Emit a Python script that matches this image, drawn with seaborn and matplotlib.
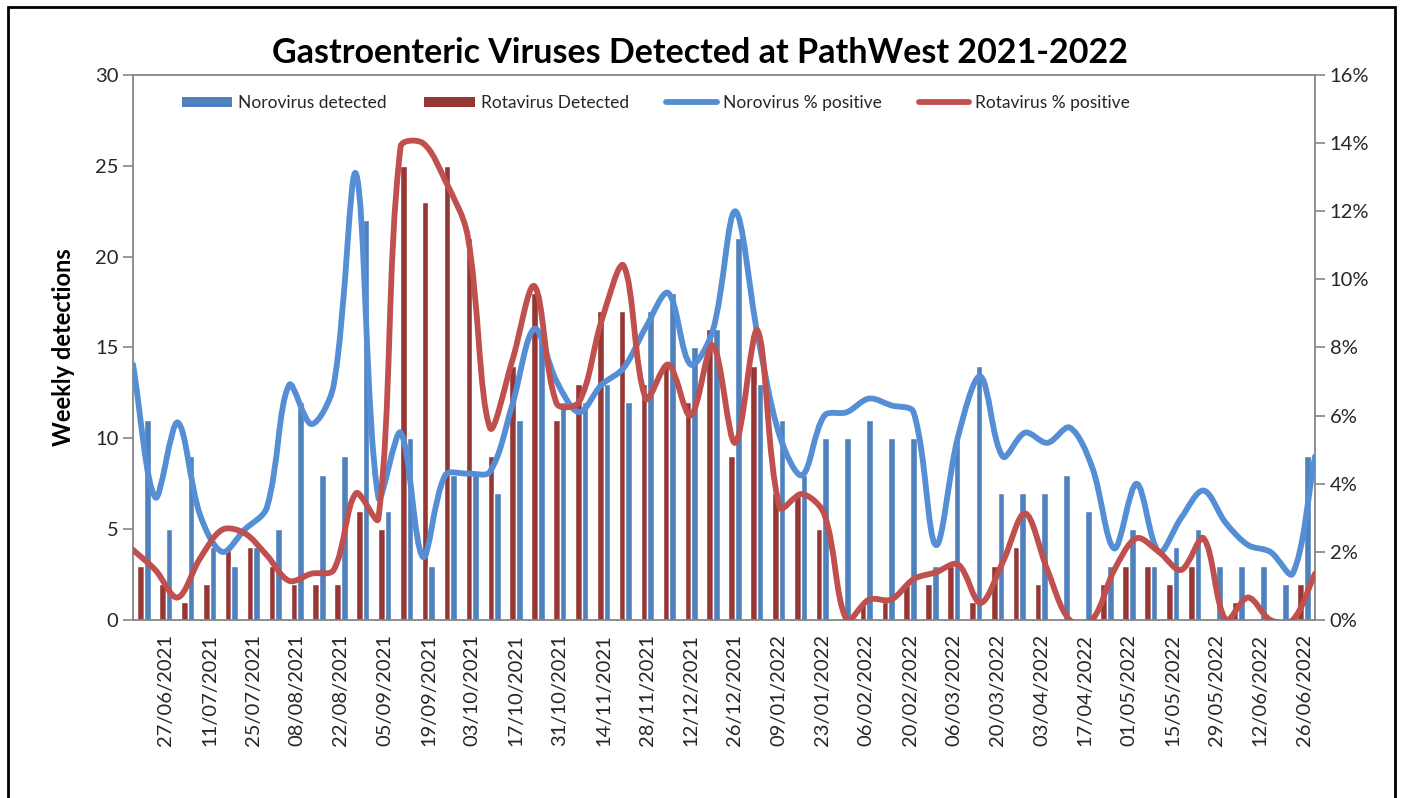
import numpy as np
import pandas as pd
import seaborn as sns
import matplotlib
matplotlib.use("Agg")
import matplotlib.pyplot as plt
from matplotlib.path import Path
from matplotlib.patches import PathPatch, Patch, Rectangle
from matplotlib.lines import Line2D
from matplotlib.ticker import FuncFormatter

# weekly data, week starting dates (Sunday) 20/06/2021 .. 26/06/2022
weeks = pd.date_range("2021-06-20", periods=54, freq="7D").strftime("%d/%m/%Y").tolist()

noro_detected = [11, 5, 9, 4, 3, 4, 5, 12, 8, 9, 22, 6, 10, 3, 8, 8, 7, 11, 16, 12,
                 12, 13, 12, 17, 18, 15, 16, 21, 13, 11, 8, 10, 10, 11, 10, 10, 3, 10, 14, 7,
                 7, 7, 8, 6, 3, 5, 3, 4, 5, 3, 3, 3, 2, 9]
rota_detected = [3, 2, 1, 2, 4, 4, 3, 2, 2, 2, 6, 5, 25, 23, 25, 21, 9, 14, 18, 11,
                 13, 17, 17, 13, 14, 12, 16, 9, 14, 7, 7, 5, 0, 1, 1, 2, 2, 3, 1, 3,
                 4, 2, 0, 0, 2, 3, 3, 2, 3, 0, 1, 0, 0, 2]

# % positive (secondary axis)
noro_pct = [7.5, 3.6, 5.8, 3.1, 2.0, 2.65, 3.3, 6.9, 5.75, 6.9, 13.1, 3.6, 5.5, 1.85, 4.25, 4.3, 4.35, 6.3, 8.55, 7.0,
            6.1, 6.9, 7.4, 8.6, 9.6, 7.5, 8.5, 12.0, 8.4, 5.4, 4.25, 6.0, 6.1, 6.5, 6.3, 6.1, 2.2, 5.4, 7.15, 4.8,
            5.5, 5.2, 5.65, 4.5, 2.1, 4.0, 2.0, 3.0, 3.8, 2.85, 2.2, 2.0, 1.36, 4.8]
rota_pct = [2.06, 1.47, 0.66, 1.8, 2.65, 2.55, 1.9, 1.15, 1.36, 1.47, 3.72, 2.97, 13.9, 14.0, 12.9, 11.3, 5.65, 7.6, 9.8, 6.35,
            6.4, 8.76, 10.4, 6.5, 7.5, 6.0, 8.06, 5.2, 8.5, 3.3, 3.7, 3.1, 0.0, 0.6, 0.6, 1.2, 1.4, 1.63, 0.5, 1.7,
            3.13, 1.47, 0.0, 0.0, 1.47, 2.4, 2.0, 1.47, 2.4, 0.0, 0.66, 0.0, 0.0, 1.36]

BLUE_BAR = "#4F81BD"
RED_BAR = "#953735"
BLUE_LINE = "#558ED5"
RED_LINE = "#C0504D"
GREY = "#868686"
TXT = "#262626"

sns.set_style("white")
plt.rcParams["font.family"] = ["Lato", "DejaVu Sans"]


def smooth_path(xs, ys, sx=22.3, sy=34.06):
    # excel-like smoothed line: cubic bezier through every point,
    # control arms weighted by the (screen) length of the neighbouring segments
    pts = np.column_stack([xs, ys]).astype(float)
    n = len(pts)
    scr = pts * [sx, sy]
    seg = np.hypot(*np.diff(scr, axis=0).T)
    fwd = np.zeros_like(pts)
    back = np.zeros_like(pts)
    for i in range(n):
        p_prev = pts[max(i - 1, 0)]
        p_next = pts[min(i + 1, n - 1)]
        d1 = seg[i - 1] if i > 0 else 0.0
        d2 = seg[i] if i < n - 1 else 0.0
        tot = d1 + d2 if d1 + d2 > 0 else 1.0
        t = p_next - p_prev
        fwd[i] = pts[i] + t * d2 / (3 * tot)
        back[i] = pts[i] - t * d1 / (3 * tot)
    verts = [pts[0]]
    codes = [Path.MOVETO]
    for i in range(n - 1):
        verts += [fwd[i], back[i + 1], pts[i + 1]]
        codes += [Path.CURVE4] * 3
    return Path(verts, codes)


df = pd.DataFrame({
    "week": weeks * 2,
    "count": rota_detected + noro_detected,
    "virus": ["Rotavirus Detected"] * len(weeks) + ["Norovirus detected"] * len(weeks),
})

fig = plt.figure(figsize=(14.02, 7.98), dpi=100)
rect = [133 / 1402, 1 - 620 / 798, (1315 - 133) / 1402, 545 / 798]
ax = fig.add_axes(rect)

sns.barplot(data=df, x="week", y="count", hue="virus", order=weeks,
            hue_order=["Rotavirus Detected", "Norovirus detected"],
            palette=[RED_BAR, BLUE_BAR], width=0.6, saturation=1,
            legend=False, ax=ax)

ax.set_xlim(-0.5, len(weeks) - 0.5)
ax.set_ylim(0, 30)
ax.set_yticks(range(0, 31, 5))
ax.set_xticks(np.arange(-0.5, len(weeks), 1))
ax.set_xticklabels([])
ax.set_xticks(np.arange(1, len(weeks), 2), minor=True)
ax.set_xticklabels(weeks[1::2], minor=True, rotation=90)
ax.tick_params(axis="x", which="major", direction="out", length=6, color=GREY, width=1.2)
ax.tick_params(axis="x", which="minor", length=0, pad=10, labelsize=14.5, labelcolor=TXT)
ax.tick_params(axis="y", direction="out", length=7, color=GREY, width=1.2, labelsize=14.5,
               labelcolor=TXT, left=True)
ax.set_xlabel("")
ax.set_ylabel("Weekly detections", fontsize=17, fontweight="bold", color="black", labelpad=14)
for s in ax.spines.values():
    s.set_color(GREY)
    s.set_linewidth(1.3)

# secondary axis for the % lines (lines span edge to edge)
ax2 = fig.add_axes(rect, facecolor="none")
ax2.set_xlim(0, len(weeks) - 1)
ax2.set_ylim(0, 16)
ax2.add_patch(PathPatch(smooth_path(range(len(weeks)), noro_pct), fill=False,
                        edgecolor=BLUE_LINE, lw=4.2, capstyle="round", joinstyle="round"))
ax2.add_patch(PathPatch(smooth_path(range(len(weeks)), rota_pct), fill=False,
                        edgecolor=RED_LINE, lw=4.2, capstyle="round", joinstyle="round"))
ax2.xaxis.set_visible(False)
ax2.yaxis.tick_right()
ax2.set_yticks(range(0, 17, 2))
ax2.yaxis.set_major_formatter(FuncFormatter(lambda v, p: f"{v:.0f}%"))
ax2.tick_params(axis="y", direction="out", length=7, color=GREY, width=1.2, labelsize=14.5,
                labelcolor=TXT, right=True, left=False)
for s in ax2.spines.values():
    s.set_visible(False)

handles = [
    Patch(facecolor=BLUE_BAR, edgecolor="none"),
    Patch(facecolor=RED_BAR, edgecolor="none"),
    Line2D([], [], color=BLUE_LINE, lw=4.2, solid_capstyle="round"),
    Line2D([], [], color=RED_LINE, lw=4.2, solid_capstyle="round"),
]
labels = ["Norovirus detected", "Rotavirus Detected", "Norovirus % positive", "Rotavirus % positive"]
ax2.legend(handles, labels, ncol=4, frameon=False, loc="upper left",
           bbox_to_anchor=((175 - 133) / 1182, 0.976), fontsize=12.5,
           handlelength=2.9, handleheight=0.55, handletextpad=0.35, columnspacing=2.15,
           labelcolor=TXT, borderaxespad=0)

fig.text(700 / 1402, 1 - 53 / 798, "Gastroenteric Viruses Detected at PathWest 2021-2022",
         ha="center", va="center", fontsize=24.5, fontweight="bold", color="black")

# chart area border
fig.add_artist(Rectangle((8 / 1402, -0.02), (1395 - 8) / 1402, 1.02 - 7 / 798,
                         transform=fig.transFigure, fill=False, edgecolor="black", lw=2))

fig.savefig("out.png", dpi=100)
